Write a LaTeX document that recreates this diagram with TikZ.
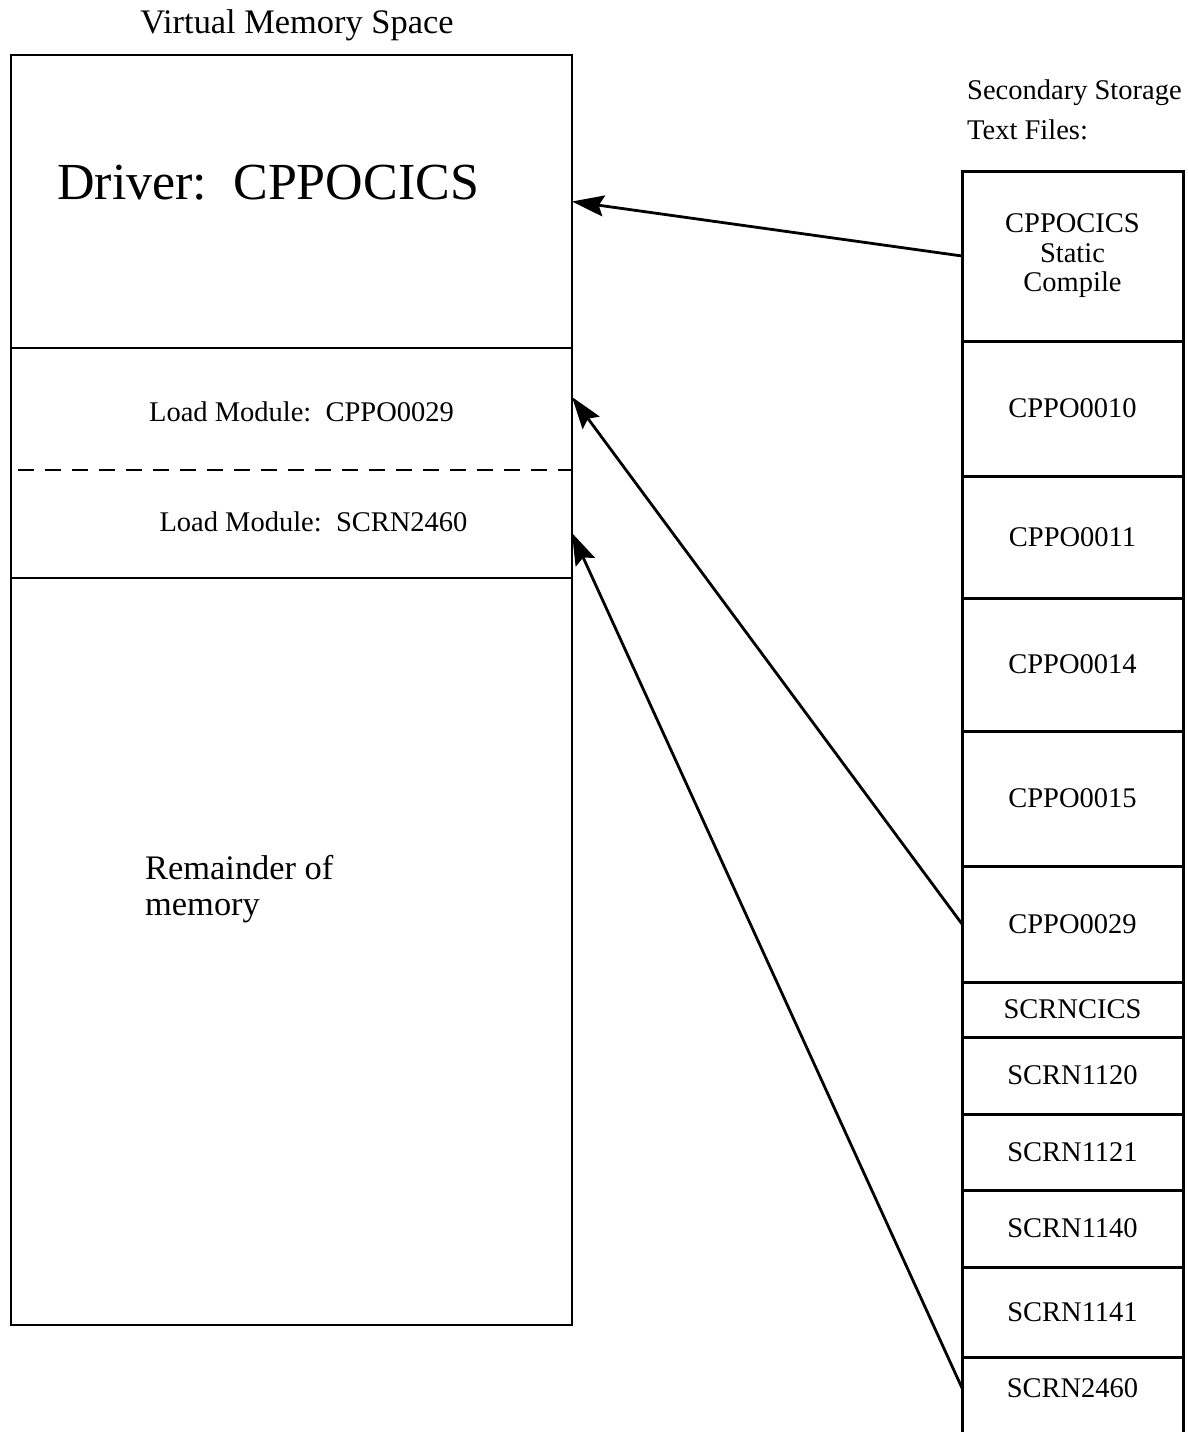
\documentclass[tikz,border=0pt]{standalone}
\usepackage{fontspec}
\setmainfont{Liberation Serif}
\usetikzlibrary{arrows.meta,positioning}

\begin{document}
\begin{tikzpicture}[
  x=1pt, y=-1pt,
  mem/.style={draw, line width=2.6pt, minimum width=561pt, outer sep=0pt, inner sep=0pt},
  cell/.style={draw, line width=3pt, minimum width=221pt, outer sep=0pt, align=center, font=\fontsize{28.5}{29.5}\selectfont},
  lbl/.style={inner sep=0pt, font=\fontsize{28.5}{30}\selectfont},
  big/.style={inner sep=0pt, font=\fontsize{34.4}{36}\selectfont, align=left},
  arrow/.style={-{Stealth[length=32pt, width=21pt, inset=5pt]}, line width=2.8pt},
]
  \useasboundingbox (0,0) rectangle (1188,1432);

  % Virtual memory
  \node[big, anchor=base] (vmtitle) at (297,33) {Virtual Memory Space};
  \node[mem, minimum height=293pt] (drv) at (291.5,201.5) {};
  \node[mem, minimum height=230pt] (mods) at (291.5,463) {};
  \node[mem, minimum height=747pt] (rem) at (291.5,951.5) {};
  \coordinate (split) at (18,470);
  \draw[line width=1.8pt, dash pattern=on 16pt off 11pt] (split) -- (split -| mods.east);

  \node[inner sep=0pt, anchor=base west, font=\fontsize{52}{56}\selectfont] (drvtext) at (57,199) {Driver:\ \ CPPOCICS};
  \node[lbl, anchor=base] (lm29) at (301.5,421.5) {Load Module:\ \ CPPO0029};
  \node[lbl, anchor=base] (lm2460) at (313.5,531.5) {Load Module:\ \ SCRN2460};
  \node[big, anchor=west] (remtext) at (145,889.5) {Remainder of\\memory};
  \coordinate (tipA) at (572,397);
  \coordinate (tipB) at (572,533);

  % Secondary storage
  \node[lbl, align=left, anchor=west, font=\fontsize{28.5}{39.5}\selectfont] (sstitle) at (967,110) {Secondary Storage\\Text Files:};
  \node[cell, minimum height=170pt] (c1) at (1072.5,256) {CPPOCICS\\Static\\Compile};
  \node[cell, minimum height=135pt] (c2) at (1072.5,408.5) {CPPO0010};
  \node[cell, minimum height=122pt] (c3) at (1072.5,537) {CPPO0011};
  \node[cell, minimum height=133pt] (c4) at (1072.5,664.5) {CPPO0014};
  \node[cell, minimum height=135pt] (c5) at (1072.5,798.5) {CPPO0015};
  \node[cell, minimum height=116pt] (c6) at (1072.5,924) {CPPO0029};
  \node[cell, minimum height=55pt] (c7) at (1072.5,1009.5) {SCRNCICS};
  \node[cell, minimum height=77pt] (c8) at (1072.5,1075.5) {SCRN1120};
  \node[cell, minimum height=76pt] (c9) at (1072.5,1152) {SCRN1121};
  \node[cell, minimum height=77pt] (c10) at (1072.5,1228.5) {SCRN1140};
  \node[cell, minimum height=90pt] (c11) at (1072.5,1312) {SCRN1141};
  \node[cell, draw=none, minimum height=62pt] (s2460) at (1072.5,1388) {SCRN2460};
  \draw[line width=3pt] (s2460.north west) -- ++(0,75);
  \draw[line width=3pt] (s2460.north east) -- ++(0,75);

  % Arrows
  \draw[arrow] (c1.west) -- (drv.east);
  \draw[arrow] (c6.west) -- (tipA);
  \draw[arrow] (s2460.west) -- (tipB);
\end{tikzpicture}
\end{document}
